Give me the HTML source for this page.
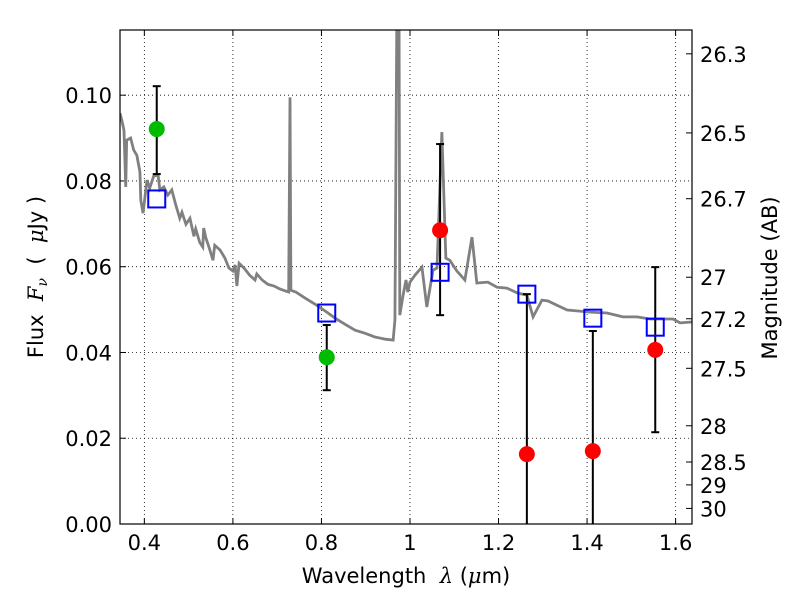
<!DOCTYPE html>
<html><head><meta charset="utf-8"><style>
body{margin:0;background:#fff;}
svg{display:block;font-family:"DejaVu Sans","Liberation Sans",sans-serif;}
</style></head><body>
<svg id="c" width="800" height="600"></svg>
<script>
const specLam=[0.345,0.349,0.354,0.358,0.360,0.369,0.376,0.383,0.390,0.392,0.397,0.406,0.412,0.421,0.431,0.435,0.444,0.453,0.462,0.471,0.480,0.485,0.494,0.503,0.512,0.516,0.525,0.532,0.534,0.539,0.548,0.555,0.559,0.571,0.582,0.591,0.600,0.605,0.609,0.614,0.625,0.638,0.650,0.654,0.666,0.679,0.693,0.706,0.720,0.726,0.729,0.731,0.742,0.763,0.785,0.808,0.831,0.853,0.876,0.898,0.921,0.944,0.962,0.966,0.971,0.975,0.977,0.984,0.991,0.995,1.000,1.011,1.027,1.038,1.052,1.061,1.072,1.081,1.090,1.106,1.124,1.140,1.151,1.176,1.197,1.219,1.244,1.264,1.278,1.298,1.312,1.332,1.355,1.377,1.407,1.445,1.481,1.513,1.542,1.594,1.610,1.637];
const specFlux=[0.0958,0.0942,0.0918,0.0786,0.0895,0.0900,0.0872,0.0860,0.0821,0.0755,0.0725,0.0802,0.0783,0.0811,0.0814,0.0779,0.0786,0.0767,0.0779,0.0744,0.0713,0.0727,0.0699,0.0713,0.0671,0.0688,0.0657,0.0646,0.0690,0.0667,0.0639,0.0615,0.0650,0.0639,0.0620,0.0597,0.0590,0.0604,0.0555,0.0608,0.0597,0.0580,0.0569,0.0583,0.0569,0.0559,0.0555,0.0548,0.0543,0.0541,0.0995,0.0545,0.0541,0.0527,0.0513,0.0497,0.0480,0.0466,0.0452,0.0445,0.0436,0.0431,0.0429,0.0476,0.13,0.13,0.0487,0.0531,0.0569,0.0541,0.0564,0.0580,0.0599,0.0506,0.0592,0.0597,0.0914,0.0620,0.0615,0.0590,0.0569,0.0669,0.0562,0.0564,0.0552,0.0550,0.0538,0.0534,0.0483,0.0522,0.0520,0.0510,0.0499,0.0497,0.0494,0.0492,0.0483,0.0483,0.0478,0.0478,0.0469,0.0471];
const obsLam=[0.428,0.812,1.068,1.264,1.413,1.554];
const obsFlux=[0.0921,0.0389,0.0685,0.0163,0.0170,0.0406];
const obsHi=[0.1021,0.0464,0.0886,0.0536,0.0450,0.0599];
const obsLo=[0.0816,0.0312,0.0487,-0.01,-0.01,0.0214];
const obsColor=['#00bb00','#00bb00','#ff0000','#ff0000','#ff0000','#ff0000'];
const modelFlux=[0.0758,0.0492,0.0587,0.0536,0.0480,0.0459];
const xTicks=[0.4,0.6,0.8,1.0,1.2,1.4,1.6];
const xTickLabels=['0.4','0.6','0.8','1','1.2','1.4','1.6'];
const yTicks=[0,0.02,0.04,0.06,0.08,0.10];
const yTickLabels=['0.00','0.02','0.04','0.06','0.08','0.10'];
const magTicks=[26.3,26.5,26.7,27,27.2,27.5,28,28.5,29,30];
const magLabels=['26.3','26.5','26.7','27','27.2','27.5','28','28.5','29','30'];

const L=120,R=692,T=30,B=524,X0=0.345,X1=1.637,Y0=0,Y1=0.1152;
const sx=v=>L+(v-X0)/(X1-X0)*(R-L);
const sy=v=>B-(v-Y0)/(Y1-Y0)*(B-T);
const svg=document.getElementById('c');const NS='http://www.w3.org/2000/svg';
function mk(t,a,p){const e=document.createElementNS(NS,t);for(const k in a)e.setAttribute(k,a[k]);(p||svg).appendChild(e);return e;}
const defs=mk('defs',{});const cp=mk('clipPath',{id:'cl'},defs);mk('rect',{x:L,y:T,width:R-L,height:B-T},cp);
xTicks.forEach((v,i)=>{
 const g=mk('line',{x1:sx(v),x2:sx(v),y1:T,y2:B,stroke:'#000','stroke-width':0.8,'stroke-dasharray':'1,3'});
 
 
 mk('line',{x1:sx(v),x2:sx(v),y1:B,y2:B-6,stroke:'#000'});mk('line',{x1:sx(v),x2:sx(v),y1:T,y2:T+6,stroke:'#000'});
 const t=mk('text',{x:sx(v),y:B+26,'text-anchor':'middle','font-size':21});t.textContent=xTickLabels[i];
 
 
});
yTicks.forEach((v,i)=>{
 const g=mk('line',{x1:L,x2:R,y1:sy(v),y2:sy(v),stroke:'#000','stroke-width':0.8,'stroke-dasharray':'1,3'});
 
 
 mk('line',{x1:L,x2:L+6,y1:sy(v),y2:sy(v),stroke:'#000'});
 const t=mk('text',{x:L-8,y:sy(v)+8,'text-anchor':'end','font-size':21});t.textContent=yTickLabels[i];
 
 
});
magTicks.forEach((m,i)=>{
 const f=Math.pow(10,(23.9-m)/2.5);const y=sy(f);
 mk('line',{x1:R,x2:R-6,y1:y,y2:y,stroke:'#000'});
 const t=mk('text',{x:R+8,y:y+8,'font-size':21});t.textContent=magLabels[i];
 
 
});
const pl=mk('polyline',{points:specLam.map((l,i)=>sx(l)+','+sy(specFlux[i])).join(' '),fill:'none',stroke:'#808080','stroke-width':2.8,'clip-path':'url(#cl)'});


const g=mk('g',{'clip-path':'url(#cl)'});
obsLam.forEach((l,i)=>{
 const x=sx(l);
 mk('line',{x1:x,x2:x,y1:sy(obsHi[i]),y2:sy(obsLo[i]),stroke:'#000','stroke-width':2},g);
 mk('line',{x1:x-4,x2:x+4,y1:sy(obsHi[i]),y2:sy(obsHi[i]),stroke:'#000','stroke-width':2},g);
 mk('line',{x1:x-4,x2:x+4,y1:sy(obsLo[i]),y2:sy(obsLo[i]),stroke:'#000','stroke-width':2},g);
 const s=mk('rect',{x:x-8.5,y:sy(modelFlux[i])-8.5,width:17,height:17,fill:'none',stroke:'#0000ff','stroke-width':2},g);
 
 
 const c=mk('circle',{cx:x,cy:sy(obsFlux[i]),r:8,fill:obsColor[i]},g);
 
 
});
const fr=mk('rect',{x:L,y:T,width:R-L,height:B-T,fill:'none',stroke:'#000','stroke-width':1.2});


</script>
<svg style="position:absolute;left:0;top:0" width="800" height="600">
<text x="406" y="583" text-anchor="middle" font-size="21" font-family="DejaVu Sans, sans-serif" xml:space="preserve">Wavelength  <tspan font-style="italic" font-family="DejaVu Serif, serif">λ</tspan> (<tspan font-style="italic" font-family="DejaVu Serif, serif">μ</tspan>m)</text>
<text transform="translate(43,277) rotate(-90)" text-anchor="middle" font-size="21" font-family="DejaVu Sans, sans-serif" xml:space="preserve">Flux  <tspan font-style="italic" font-family="DejaVu Serif, serif">F</tspan><tspan font-size="14" dy="4" font-style="italic" font-family="DejaVu Serif, serif">ν</tspan><tspan dy="-4">  (  </tspan><tspan font-style="italic" font-family="DejaVu Serif, serif">μ</tspan>Jy )</text>
<text transform="translate(777,278) rotate(-90)" text-anchor="middle" font-size="21" font-family="DejaVu Sans, sans-serif">Magnitude (AB)</text>
</svg>
</body></html>
